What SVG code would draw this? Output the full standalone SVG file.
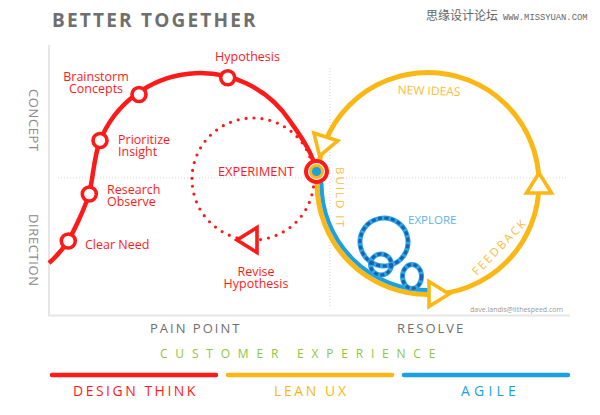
<svg xmlns="http://www.w3.org/2000/svg" width="600" height="415" viewBox="0 0 600 415">
<style>
text{font-family:"Open Sans","Noto Sans",sans-serif}
.red{fill:#ff1a1a;font-size:12.5px}
.ring{fill:#fff;stroke:#ff1a1a;stroke-width:3.6}
.ytri{fill:#fff;stroke:#fbb814;stroke-width:3.6;stroke-linejoin:miter}
.rtri{fill:#fff;stroke:#ff1a1a;stroke-width:3.6}
.ytxt{fill:#f9bd3c;font-size:11.5px}
.gray{fill:#6f6f6f}
.axis{fill:#8a8a8a;font-size:13px;letter-spacing:0.6px}
.bar{stroke-width:4.5;stroke-linecap:round;fill:none}
</style>
<defs>
<polygon id="tri" points="-9,-12.5 11,0 -9,12.5"/>
<g id="loops">
<ellipse cx="384" cy="242" rx="24" ry="24" transform="rotate(-10 384 242)"/>
<ellipse cx="381" cy="264.5" rx="10.5" ry="10.5"/>
<ellipse cx="412" cy="276.5" rx="9.5" ry="12"/>
</g>
</defs>

<text x="52" y="27" style="font-size:19px;font-weight:bold;letter-spacing:2.2px" class="gray">BETTER TOGETHER</text>
<text x="426" y="20" style="font-family:'Noto Sans CJK SC',sans-serif;font-size:12px;fill:#666">思缘设计论坛</text>
<text x="503" y="19.5" style="font-family:'Liberation Mono',monospace;font-size:8.8px;fill:#666">WWW.MISSYUAN.COM</text>

<g id="frame">
<path d="M49,45 V315.5 H570" fill="none" stroke="#e6e6e6" stroke-width="2"/>
<path d="M58,178 H566" stroke="#d6d6d6" stroke-width="1" stroke-dasharray="1 2"/>
<path d="M330,68 V306" stroke="#d6d6d6" stroke-width="1" stroke-dasharray="1 2"/>
</g>

<text class="axis" transform="translate(29,89) rotate(90)">CONCEPT</text>
<text class="axis" transform="translate(29,214) rotate(90)">DIRECTION</text>

<g id="connectors">
<circle cx="428" cy="183.5" r="111" fill="none" stroke="#fbb814" stroke-width="5"/>
<path d="M318,172 L321.5,183.5 A106.5 106.5 0 0 0 428,290" fill="none" stroke="#1ba1e2" stroke-width="4"/>
<use href="#loops" fill="none" stroke="#2aa8e8" stroke-width="5"/>
<use href="#loops" fill="none" stroke="#1f5fae" stroke-width="3.2" stroke-dasharray="4 2.5"/>
<circle cx="253" cy="179" r="61" fill="none" stroke="#ff1a1a" stroke-width="3.2" stroke-linecap="round" stroke-dasharray="0 8"/>
<path d="M49,263 C57,256 63,249 68,241 S85,208 89,194 S94,155 100,141 A108 108 0 0 1 290,121 C298.5,133.4 313,152 316,171" fill="none" stroke="#ff1a1a" stroke-width="4.5"/>
<use href="#tri" class="ytri" transform="translate(438,294)"/>
<use href="#tri" class="ytri" transform="translate(539,184) rotate(-90)"/>
<use href="#tri" class="ytri" transform="translate(323,145.5) rotate(108)"/>
<use href="#tri" class="rtri" transform="translate(248,240) rotate(180)"/>
</g>

<g id="clear-need"><circle class="ring" cx="68.3" cy="241" r="7"/><text class="red" x="85" y="249">Clear Need</text></g>
<g id="research"><circle class="ring" cx="89.3" cy="194" r="7"/><text class="red" x="107" y="194">Research</text><text class="red" x="107" y="206">Observe</text></g>
<g id="prioritize"><circle class="ring" cx="100" cy="140.5" r="7"/><text class="red" x="118" y="143.5">Prioritize</text><text class="red" x="118" y="155.5">Insight</text></g>
<g id="brainstorm"><circle class="ring" cx="139" cy="94.5" r="7"/><text class="red" x="96" y="81" text-anchor="middle">Brainstorm</text><text class="red" x="96" y="93" text-anchor="middle">Concepts</text></g>
<g id="hypothesis"><circle class="ring" cx="227.7" cy="77.7" r="7"/><text class="red" x="247.5" y="60.5" text-anchor="middle">Hypothesis</text></g>
<g id="revise"><text class="red" x="256" y="276" text-anchor="middle">Revise</text><text class="red" x="256" y="288" text-anchor="middle">Hypothesis</text></g>
<g id="experiment">
<text class="red" x="218" y="176" style="font-size:12.8px">EXPERIMENT</text>
<circle cx="316.5" cy="171.5" r="10.5" fill="#fff" stroke="#ff1a1a" stroke-width="4"/>
<circle cx="316.5" cy="171.5" r="7.5" fill="#fbb814"/>
<circle cx="316.5" cy="171.5" r="4.5" fill="#1ba1e2"/>
</g>

<text class="ytxt" x="429" y="95" text-anchor="middle" transform="rotate(2 429 91)" style="font-size:12px">NEW IDEAS</text>
<text class="ytxt" transform="translate(336,167) rotate(90)" style="letter-spacing:2px">BUILD IT</text>
<text class="ytxt" transform="translate(477,276) rotate(-46)" style="letter-spacing:2.2px">FEEDBACK</text>
<text x="408" y="224" style="fill:#5ab4ea;font-size:11.5px">EXPLORE</text>
<text x="563" y="312" text-anchor="end" style="fill:#9a9a9a;font-size:7px">dave.landis@lithespeed.com</text>

<text x="150" y="333" style="font-size:13px;letter-spacing:2px" class="gray">PAIN POINT</text>
<text x="397" y="333" style="font-size:13px;letter-spacing:2px" class="gray">RESOLVE</text>
<text x="160" y="358" style="font-size:12px;letter-spacing:7.8px;fill:#8cc63f">CUSTOMER EXPERIENCE</text>
<path class="bar" d="M52,375 H216" stroke="#ff1a1a"/>
<path class="bar" d="M228,375 H392" stroke="#fbb814"/>
<path class="bar" d="M404,375 H568" stroke="#1ba1e2"/>
<text x="73" y="396" style="font-size:14px;letter-spacing:2.5px;fill:#ff1a1a">DESIGN THINK</text>
<text x="274" y="396" style="font-size:14px;letter-spacing:2.6px;fill:#fbb814">LEAN UX</text>
<text x="461" y="396" style="font-size:14px;letter-spacing:4.2px;fill:#1ba1e2">AGILE</text>
</svg>
